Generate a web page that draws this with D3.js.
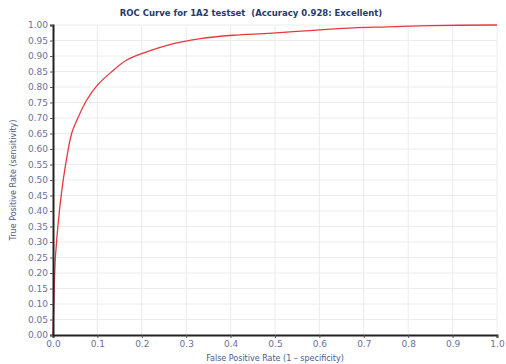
<!DOCTYPE html>
<html>
<head>
<meta charset="utf-8">
<script src="https://cdn.jsdelivr.net/npm/d3@7"></script>
<style>
  body { margin: 0; background: #fff; }
  text { font-family: "DejaVu Sans", sans-serif; }
  .tick text { fill: #6b7196; font-size: 9px; }
  .grid line { stroke: #ececec; stroke-width: 1; }
</style>
</head>
<body>
<div id="chart"></div>
<script>
// ROC points
var fpr = [0, 0.002, 0.005, 0.008, 0.011, 0.018, 0.029, 0.042, 0.056, 0.076, 0.10, 0.132,
           0.166, 0.208, 0.253, 0.332, 0.406, 0.483, 0.557, 0.625, 0.677, 0.754, 0.85, 1.0];
var tpr = [0, 0.11, 0.24, 0.30, 0.35, 0.445, 0.555, 0.65, 0.70, 0.758, 0.806, 0.849,
           0.887, 0.912, 0.933, 0.956, 0.967, 0.973, 0.98, 0.987, 0.991, 0.994, 0.998, 1.0];
var xTicks = d3.range(0, 11).map(function (i) { return i / 10; });
var yTicks = d3.range(0, 21).map(function (i) { return i / 20; });

var title = 'ROC Curve for 1A2 testset  (Accuracy 0.928: Excellent)',
    xLabel = 'False Positive Rate (1 \u2013 specificity)',
    yLabel = 'True Positive Rate (sensitivity)';

var width = 506, height = 364,
    margin = { left: 53, right: 9, top: 25, bottom: 29 },
    w = width - margin.left - margin.right,
    h = height - margin.top - margin.bottom;

var svg = d3.select('#chart').append('svg')
    .attr('width', width)
    .attr('height', height);

var x = d3.scaleLinear().domain([0, 1]).range([0, w]);
var y = d3.scaleLinear().domain([0, 1]).range([h, 0]);

var g = svg.append('g')
    .attr('transform', 'translate(' + margin.left + ',' + margin.top + ')');

// faint grid
var grid = g.append('g').attr('class', 'grid');
grid.selectAll('line.v').data(xTicks.slice(1)).enter().append('line')
    .attr('class', 'v')
    .attr('x1', function (d) { return x(d); }).attr('x2', function (d) { return x(d); })
    .attr('y1', 0).attr('y2', h);
grid.selectAll('line.h').data(yTicks.slice(1)).enter().append('line')
    .attr('class', 'h')
    .attr('y1', function (d) { return y(d); }).attr('y2', function (d) { return y(d); })
    .attr('x1', 0).attr('x2', w);

// curve
var pts = fpr.map(function (f, i) { return [f, tpr[i]]; });
g.append('path')
    .datum(pts)
    .attr('fill', 'none')
    .attr('stroke', '#e8383d')
    .attr('stroke-width', 1.3)
    .attr('d', d3.line()
        .x(function (d) { return x(d[0]); })
        .y(function (d) { return y(d[1]); })
        .curve(d3.curveCatmullRom.alpha(0.5)));

// axes
var xAxis = d3.axisBottom(x).tickValues(xTicks).tickFormat(d3.format('.1f')).tickSize(3).tickPadding(3);
var yAxis = d3.axisLeft(y).tickValues(yTicks).tickFormat(d3.format('.2f')).tickSize(3).tickPadding(2);

var gx = g.append('g')
    .attr('transform', 'translate(0,' + h + ')')
    .call(xAxis);
var gy = g.append('g').call(yAxis);

[gx, gy].forEach(function (a) {
    a.select('.domain').attr('stroke', '#222').attr('stroke-width', 2);
    a.selectAll('.tick line').attr('stroke', '#555');
});

// titles
svg.append('text')
    .attr('x', margin.left + w / 2 - 24)
    .attr('y', 16)
    .attr('text-anchor', 'middle')
    .attr('font-size', 8.5)
    .attr('font-weight', 'bold')
    .attr('fill', '#26396b')
    .style('white-space', 'pre')
    .text(title);

svg.append('text')
    .attr('x', margin.left + w / 2)
    .attr('y', height - 3)
    .attr('text-anchor', 'middle')
    .attr('font-size', 8)
    .attr('fill', '#4a5a8a')
    .text(xLabel);

svg.append('text')
    .attr('transform', 'translate(16,' + (margin.top + h / 2) + ') rotate(-90)')
    .attr('text-anchor', 'middle')
    .attr('font-size', 8)
    .attr('fill', '#4a5a8a')
    .text(yLabel);
</script>
</body>
</html>
